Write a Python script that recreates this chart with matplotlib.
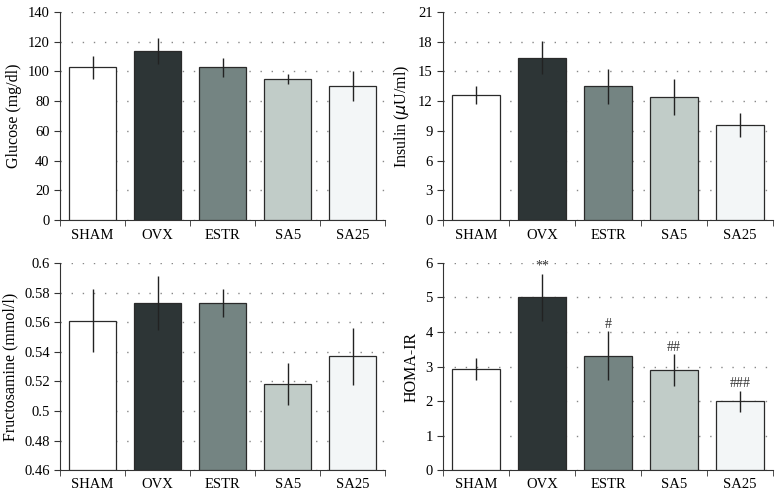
import numpy as np
import matplotlib.pyplot as plt

groups = ["SHAM", "OVX", "ESTR", "SA5", "SA25"]
colors = ["#ffffff", "#2d3536", "#748482", "#c1ccc8", "#f3f6f7"]

glucose = [102.8, 113.8, 102.8, 95.0, 90.2]
glucose_err = [7.6, 8.8, 6.4, 3.2, 9.9]

insulin = [12.6, 16.4, 13.5, 12.4, 9.6]
insulin_err = [0.9, 1.65, 1.75, 1.8, 1.25]

fructosamine = [0.561, 0.573, 0.573, 0.518, 0.537]
fructosamine_err = [0.0213, 0.0183, 0.0092, 0.0143, 0.0193]

homa = [2.92, 5.01, 3.31, 2.89, 1.99]
homa_err = [0.32, 0.68, 0.71, 0.46, 0.30]
homa_marks = ["", "**", "#", "##", "###"]

plt.rcParams['font.family'] = ['Liberation Serif', 'DejaVu Serif']

fig = plt.figure(figsize=(7.8, 4.97), dpi=100)

panels = [
    ([0.077, 0.557, 0.417, 0.419], glucose, glucose_err, (0, 140), np.arange(0, 141, 20), "Glucose (mg/dl)", None),
    ([0.568, 0.557, 0.423, 0.419], insulin, insulin_err, (0, 21), np.arange(0, 22, 3), "Insulin ($\\mu$U/ml)", None),
    ([0.077, 0.054, 0.417, 0.417], fructosamine, fructosamine_err, (0.46, 0.6), [0.46, 0.48, 0.5, 0.52, 0.54, 0.56, 0.58, 0.6], "Fructosamine (mmol/l)", None),
    ([0.568, 0.054, 0.423, 0.417], homa, homa_err, (0, 6), np.arange(0, 7, 1), "HOMA-IR", homa_marks),
]

x = np.arange(len(groups))
for rect, vals, errs, ylim, yticks, ylabel, marks in panels:
    ax = fig.add_axes(rect)
    base = ylim[0]
    ax.bar(x, np.array(vals) - base, bottom=base, width=0.72, color=colors,
           edgecolor="#2a2a2a", linewidth=0.9, zorder=3)
    ax.errorbar(x, vals, yerr=errs, fmt="none", ecolor="#222222",
                elinewidth=1.0, capsize=0, zorder=4)
    if marks:
        for xi, v, e, m in zip(x, vals, errs, marks):
            if m:
                ax.text(xi, v + e + 0.02, m, ha="center", va="bottom", fontsize=10, color="#333333")
    ax.set_xlim(-0.5, len(groups) - 0.5)
    ax.set_ylim(*ylim)
    ax.set_yticks(yticks)
    if ylim[1] < 1:
        ax.set_yticklabels([("%g" % t) for t in yticks])
    ax.set_xticks(x)
    ax.set_xticklabels(groups, fontsize=10.5)
    ax.set_xticks(np.arange(-0.5, len(groups)), minor=True)
    ax.tick_params(axis="x", which="major", length=0, pad=6)
    ax.tick_params(axis="x", which="minor", length=4, color="#333333")
    ax.tick_params(axis="y", labelsize=10.5, length=4, color="#333333")
    ax.yaxis.grid(True, linestyle=(0, (1, 7)), color="#888888", linewidth=1.0, zorder=0)
    ax.set_axisbelow(True)
    for s in ["top", "right"]:
        ax.spines[s].set_visible(False)
    for s in ["left", "bottom"]:
        ax.spines[s].set_color("#333333")
    ax.set_ylabel(ylabel, fontsize=11.5, labelpad=4)

fig.savefig("out.png", dpi=100)
